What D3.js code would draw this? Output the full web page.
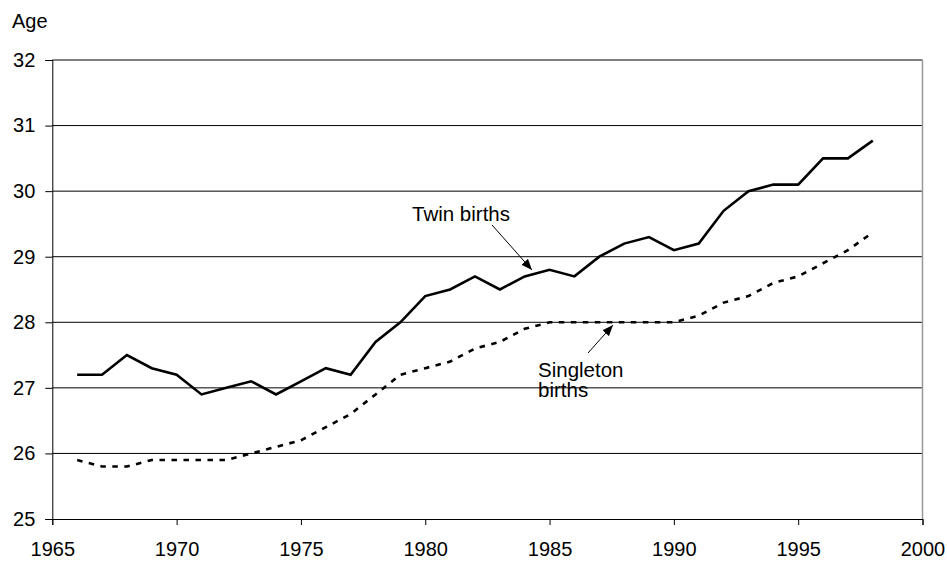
<!DOCTYPE html>
<html>
<head>
<meta charset="utf-8">
<script src="https://cdn.jsdelivr.net/npm/d3@7"></script>
<style>
  body { margin: 0; background: #fff; }
  svg text { font-family: Arial, "Liberation Sans", sans-serif; fill: #000; }
</style>
</head>
<body>
<div class="canva"></div>
<script>
// mean age of mother at birth
const years = [1966, 1967, 1968, 1969, 1970, 1971, 1972, 1973, 1974, 1975, 1976,
  1977, 1978, 1979, 1980, 1981, 1982, 1983, 1984, 1985, 1986, 1987, 1988,
  1989, 1990, 1991, 1992, 1993, 1994, 1995, 1996, 1997, 1998];
const twinAges = [27.2, 27.2, 27.5, 27.3, 27.2, 26.9, 27.0, 27.1, 26.9, 27.1, 27.3,
  27.2, 27.7, 28.0, 28.4, 28.5, 28.7, 28.5, 28.7, 28.8, 28.7, 29.0, 29.2,
  29.3, 29.1, 29.2, 29.7, 30.0, 30.1, 30.1, 30.5, 30.5, 30.77];
const singletonAges = [25.9, 25.8, 25.8, 25.9, 25.9, 25.9, 25.9, 26.0, 26.1, 26.2, 26.4,
  26.6, 26.9, 27.2, 27.3, 27.4, 27.6, 27.7, 27.9, 28.0, 28.0, 28.0, 28.0,
  28.0, 28.0, 28.1, 28.3, 28.4, 28.6, 28.7, 28.9, 29.1, 29.37];
const xTicks = [1965, 1970, 1975, 1980, 1985, 1990, 1995, 2000];
const yTicks = [25, 26, 27, 28, 29, 30, 31, 32];

const width = 947, height = 562;
const plotLeft = 52.3, plotRight = 922.5, plotTop = 60, plotBottom = 519;

const svg = d3.select(".canva").append("svg")
  .attr("width", width)
  .attr("height", height);

const x = d3.scaleLinear().domain([1965, 2000]).range([plotLeft, plotRight]);
const y = d3.scaleLinear().domain([25, 32]).range([plotBottom, plotTop]);

// arrow head
svg.append("defs").append("marker")
  .attr("id", "head")
  .attr("markerUnits", "userSpaceOnUse")
  .attr("viewBox", "0 0 10 8")
  .attr("refX", 10)
  .attr("refY", 4)
  .attr("markerWidth", 11)
  .attr("markerHeight", 9)
  .attr("orient", "auto")
  .append("path")
  .attr("d", "M0,0L10,4L0,8Z")
  .attr("fill", "#000");

// gridlines
svg.append("g").selectAll("line")
  .data(yTicks.filter(d => d > 25))
  .join("line")
  .attr("x1", plotLeft)
  .attr("x2", plotRight)
  .attr("y1", d => y(d))
  .attr("y2", d => y(d))
  .attr("stroke", "#000")
  .attr("stroke-width", 1);

// right border
svg.append("line")
  .attr("x1", plotRight).attr("x2", plotRight)
  .attr("y1", plotTop).attr("y2", plotBottom)
  .attr("stroke", "#999")
  .attr("stroke-width", 1.5);

// axes
const yAxis = svg.append("g")
  .attr("transform", `translate(${plotLeft},0)`)
  .call(d3.axisLeft(y).tickValues(yTicks).tickSize(7).tickPadding(10).tickFormat(d3.format("d")));
const xAxis = svg.append("g")
  .attr("transform", `translate(0,${plotBottom})`)
  .call(d3.axisBottom(x).tickValues(xTicks).tickSize(6).tickPadding(17).tickFormat(d3.format("d")));

[yAxis, xAxis].forEach(g => {
  g.select(".domain").attr("stroke", "#000").attr("stroke-width", 1);
  g.selectAll(".tick line").attr("stroke", "#000");
  g.selectAll(".tick text").attr("font-size", 20).attr("fill", "#000");
});

svg.append("text")
  .text("Age")
  .attr("x", 12)
  .attr("y", 28)
  .attr("font-size", 20);

const line = d3.line()
  .x((d, i) => x(years[i]))
  .y(d => y(d));

svg.append("path")
  .datum(singletonAges)
  .attr("d", line)
  .attr("fill", "none")
  .attr("stroke", "#000")
  .attr("stroke-width", 2.6)
  .attr("stroke-dasharray", "5.5,6.5");

svg.append("path")
  .datum(twinAges)
  .attr("d", line)
  .attr("fill", "none")
  .attr("stroke", "#000")
  .attr("stroke-width", 2.6)
  .attr("stroke-linejoin", "miter");

// labels with arrows
svg.append("text")
  .text("Twin births")
  .attr("x", 412)
  .attr("y", 221)
  .attr("font-size", 20.5);

svg.append("line")
  .attr("x1", 492).attr("y1", 225)
  .attr("x2", 532).attr("y2", 270)
  .attr("stroke", "#000")
  .attr("stroke-width", 1)
  .attr("marker-end", "url(#head)");

const single = svg.append("text")
  .attr("x", 538)
  .attr("y", 377)
  .attr("font-size", 20.5);
single.append("tspan").attr("x", 538).text("Singleton");
single.append("tspan").attr("x", 538).attr("dy", 20).text("births");

svg.append("line")
  .attr("x1", 588).attr("y1", 353)
  .attr("x2", 613).attr("y2", 325)
  .attr("stroke", "#000")
  .attr("stroke-width", 1)
  .attr("marker-end", "url(#head)");
</script>
</body>
</html>
